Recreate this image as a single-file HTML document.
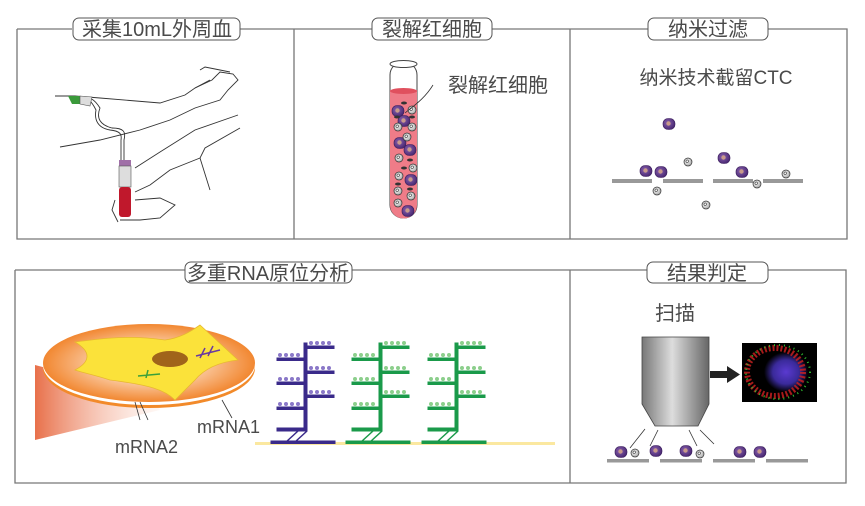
<!DOCTYPE html>
<html><head><meta charset="utf-8"><style>
html,body{margin:0;padding:0;background:#fff;width:865px;height:506px;overflow:hidden}
text{font-family:"Liberation Sans","Noto Sans CJK SC",sans-serif;fill:#4a4a4a}
</style></head><body>
<svg width="865" height="506" viewBox="0 0 865 506" xmlns="http://www.w3.org/2000/svg">
<defs>
<radialGradient id="cc" cx="0.4" cy="0.4" r="0.6"><stop offset="0" stop-color="#8a62b0"/><stop offset="1" stop-color="#4b2a74"/></radialGradient>
<radialGradient id="wc" cx="0.4" cy="0.4" r="0.6"><stop offset="0" stop-color="#fff"/><stop offset="1" stop-color="#aaa"/></radialGradient>
<radialGradient id="disc" cx="0.5" cy="0.5" r="0.55"><stop offset="0.3" stop-color="#fde0c8"/><stop offset="1" stop-color="#f07a1a"/></radialGradient>
<linearGradient id="beam" x1="0" y1="0" x2="1" y2="0"><stop offset="0" stop-color="#e8704a"/><stop offset="1" stop-color="#fde6dc" stop-opacity="0.3"/></linearGradient>
<linearGradient id="obj" x1="0" y1="0" x2="1" y2="0"><stop offset="0" stop-color="#777"/><stop offset="0.45" stop-color="#ddd"/><stop offset="1" stop-color="#666"/></linearGradient>
<radialGradient id="img" cx="0.5" cy="0.5" r="0.5"><stop offset="0" stop-color="#5a3ad0"/><stop offset="0.6" stop-color="#3a2a9a"/><stop offset="1" stop-color="#000"/></radialGradient>
<g id="c"><rect x="-6" y="-5.5" width="12" height="11" rx="5" fill="url(#cc)" stroke="#3a1d5c" stroke-width="0.6"/><circle cx="-0.5" cy="-0.5" r="2.2" fill="#c89a8a"/></g>
<g id="w"><circle r="4" fill="url(#wc)" stroke="#333" stroke-width="0.7"/><circle cx="-0.8" cy="-0.8" r="1.3" fill="none" stroke="#333" stroke-width="0.6"/></g>
<g id="tree">
<rect x="304" y="343" width="3" height="88"/>
<rect x="307" y="346" width="27" height="2.5"/><rect x="277" y="358" width="28" height="2.5"/><rect x="307" y="371" width="27" height="2.5"/><rect x="277" y="382" width="28" height="2.5"/><rect x="307" y="395" width="27" height="2.5"/><rect x="277" y="407" width="28" height="2.5"/><rect x="277" y="428" width="30" height="3"/><rect x="271" y="441" width="64" height="2.5"/>
<path d="M307 431 L295 442 M298 431 L286 442" fill="none" stroke-width="1.5"/>
</g>
<g id="dots"><circle cx="311" cy="343" r="2"/><circle cx="317" cy="343" r="2"/><circle cx="323" cy="343" r="2"/><circle cx="329" cy="343" r="2"/><circle cx="280" cy="355" r="2"/><circle cx="286" cy="355" r="2"/><circle cx="292" cy="355" r="2"/><circle cx="298" cy="355" r="2"/><circle cx="311" cy="368" r="2"/><circle cx="317" cy="368" r="2"/><circle cx="323" cy="368" r="2"/><circle cx="329" cy="368" r="2"/><circle cx="280" cy="379" r="2"/><circle cx="286" cy="379" r="2"/><circle cx="292" cy="379" r="2"/><circle cx="298" cy="379" r="2"/><circle cx="311" cy="392" r="2"/><circle cx="317" cy="392" r="2"/><circle cx="323" cy="392" r="2"/><circle cx="329" cy="392" r="2"/><circle cx="280" cy="404" r="2"/><circle cx="286" cy="404" r="2"/><circle cx="292" cy="404" r="2"/><circle cx="298" cy="404" r="2"/></g>
</defs>
<g fill="none" stroke="#777" stroke-width="1.3">
<path d="M17 29 H72 M240 29 H372 M492 29 H648 M768 29 H847 V239 H17 V29"/>
<path d="M294 29 V239 M570 29 V239"/>
<path d="M15 270 H185 M352 270 H647 M768 270 H846 V483 H15 V270 M570 270 V483"/>
</g>
<g fill="#fff" stroke="#555" stroke-width="1">
<rect x="73" y="18" width="167" height="22" rx="6"/>
<rect x="372" y="18" width="120" height="22" rx="6"/>
<rect x="648" y="18" width="120" height="22" rx="6"/>
<rect x="185" y="262" width="167" height="21" rx="6"/>
<rect x="647" y="262" width="121" height="21" rx="6"/>
</g>
<g font-size="20" text-anchor="middle">
<text x="157" y="36">采集10mL外周血</text>
<text x="432" y="36">裂解红细胞</text>
<text x="708" y="36">纳米过滤</text>
<text x="268" y="280">多重RNA原位分析</text>
<text x="707" y="280">结果判定</text>
</g>
<!-- panel 1 hands -->
<g fill="none" stroke="#333" stroke-width="0.9">
<path d="M55 96 H75 L100 98 L160 103 L185 95 L195 88 L212 80 L220 72 L233 74 L238 80 L228 90 L220 100 L195 108 L170 120 L140 130 L100 140 L60 147"/>
<path d="M200 70 L205 67 L215 69 L230 72 M195 88 L210 80"/>
<path d="M238 115 L195 130 L160 152 L135 168 M240 128 L205 148 L200 158 L210 190 M135 192 L150 185 L170 170 L200 158 M135 200 L160 198 L175 205 L160 218 L140 220 L120 220 M115 200 L112 210 L118 222"/>
<path d="M75 97 C90 95 95 100 100 108 C96 118 100 125 112 128 C124 128 126 132 124 140 L124 160"/>
<path d="M77 98 C88 96 92 102 96 110 C94 120 98 128 110 130 C120 131 122 134 121 140 L121 160"/>
</g>
<path d="M68 96 L80 96 L82 104 L72 104 Z" fill="#3a9a3a"/>
<path d="M80 96 L92 97 L90 106 L80 104 Z" fill="#ddd" stroke="#555" stroke-width="0.6"/>
<rect x="119" y="160" width="12" height="6" fill="#a070a8"/>
<rect x="119" y="166" width="12" height="21" fill="#ddd" stroke="#555" stroke-width="0.6"/>
<rect x="119" y="187" width="12" height="30" rx="3" fill="#c0182c"/>
<!-- panel 2 tube -->
<rect x="390" y="62" width="27" height="156" rx="13" fill="#fff" stroke="#444" stroke-width="1"/>
<path d="M390 90 H417 V205 A13.5 13.5 0 0 1 390 205 Z" fill="#ef7c88"/>
<ellipse cx="403.5" cy="91" rx="13.5" ry="3" fill="#e0505e"/>
<ellipse cx="403.5" cy="64" rx="13.5" ry="3.5" fill="#fff" stroke="#444"/>
<use href="#c" x="404" y="121"/><use href="#c" x="400" y="143"/><use href="#c" x="410" y="150"/><use href="#c" x="411" y="180"/><use href="#c" x="408" y="211"/><use href="#c" x="398" y="111"/>
<use href="#w" x="412" y="110"/><use href="#w" x="398" y="127"/><use href="#w" x="412" y="127"/><use href="#w" x="407" y="137"/><use href="#w" x="399" y="158"/><use href="#w" x="413" y="168"/><use href="#w" x="398" y="191"/><use href="#w" x="411" y="196"/><use href="#w" x="398" y="203"/><use href="#w" x="399" y="176"/>
<g fill="#333"><ellipse cx="404" cy="103" rx="3" ry="1.5"/><ellipse cx="397" cy="117" rx="3" ry="1.5"/><ellipse cx="410" cy="160" rx="3" ry="1.5"/><ellipse cx="398" cy="184" rx="3" ry="1.5"/><ellipse cx="410" cy="189" rx="3" ry="1.5"/><ellipse cx="404" cy="168" rx="3" ry="1.5"/><ellipse cx="412" cy="117" rx="3" ry="1.5"/></g>
<path d="M405 113 C415 105 425 98 433 85" fill="none" stroke="#333" stroke-width="0.8"/>
<text x="448" y="92" font-size="20">裂解红细胞</text>
<!-- panel 3 -->
<text x="716" y="84" font-size="19" text-anchor="middle">纳米技术截留CTC</text>
<g fill="#999"><rect x="612" y="179" width="40" height="4"/><rect x="663" y="179" width="40" height="4"/><rect x="713" y="179" width="40" height="4"/><rect x="763" y="179" width="40" height="4"/></g>
<use href="#c" x="669" y="124"/><use href="#c" x="646" y="171"/><use href="#c" x="661" y="172"/><use href="#c" x="724" y="158"/><use href="#c" x="742" y="172"/>
<use href="#w" x="688" y="162"/><use href="#w" x="657" y="191"/><use href="#w" x="706" y="205"/><use href="#w" x="757" y="184"/><use href="#w" x="786" y="174"/>
<!-- bottom left -->
<path d="M35 365 L150 395 L160 410 L35 440 Z" fill="url(#beam)"/>
<ellipse cx="149" cy="368" rx="106" ry="40" fill="#f28a2a"/>
<ellipse cx="149" cy="365" rx="106" ry="40" fill="#fff"/>
<ellipse cx="149" cy="363" rx="106" ry="39" fill="url(#disc)"/>
<path d="M75 342 C105 338 130 335 165 340 C180 338 190 332 200 325 L238 360 C220 362 205 368 195 380 L175 400 C165 390 150 385 110 380 C95 375 80 372 75 370 C90 362 92 352 75 342 Z" fill="#fbe23a" stroke="#e8b830" stroke-width="0.8"/>
<ellipse cx="170" cy="359" rx="18" ry="8" fill="#a0641a"/>
<path d="M196 356 L220 350 M205 348 L200 358 M213 346 L208 356" stroke="#6a3aa0" stroke-width="1.5" fill="none"/>
<path d="M138 376 L160 374 M148 370 L146 378" stroke="#3aa03a" stroke-width="1.5" fill="none"/>
<path d="M135 402 L140 420 M140 402 L148 420 M222 400 L232 418" stroke="#333" stroke-width="0.8"/>
<text x="197" y="433" font-size="18">mRNA1</text>
<text x="115" y="453" font-size="18">mRNA2</text>
<!-- trees -->
<rect x="255" y="442" width="300" height="3" fill="#fbe8a0"/>
<g fill="#3a2a8a" stroke="#3a2a8a"><use href="#tree"/></g>
<g fill="#8a78c8"><use href="#dots"/></g>
<g transform="translate(75,0)"><g fill="#1a9a4a" stroke="#1a9a4a"><use href="#tree"/></g><g fill="#8ccf8c"><use href="#dots"/></g></g>
<g transform="translate(151,0)"><g fill="#1a9a4a" stroke="#1a9a4a"><use href="#tree"/></g><g fill="#8ccf8c"><use href="#dots"/></g></g>
<!-- panel 5 -->
<text x="655" y="320" font-size="20">扫描</text>
<path d="M642 337 H709 V404 L698 426 H655 L642 404 Z" fill="url(#obj)" stroke="#444" stroke-width="0.8"/>
<rect x="710" y="371" width="18" height="7" fill="#222"/>
<path d="M727 366 L740 374.5 L727 383 Z" fill="#222"/>
<rect x="742" y="343" width="75" height="59" fill="#000"/>
<ellipse cx="786" cy="372" rx="22" ry="20" fill="url(#img)"/>
<ellipse cx="775" cy="372" rx="28" ry="24" fill="none" stroke="#d02020" stroke-width="6" stroke-dasharray="2 2" opacity="0.8"/>
<ellipse cx="778" cy="372" rx="32" ry="27" fill="none" stroke="#30c030" stroke-width="2" stroke-dasharray="1 4"/>
<g stroke="#333" stroke-width="0.8"><path d="M645 429 L630 448 M658 430 L650 446 M689 430 L697 446 M700 430 L714 444"/></g>
<g fill="#999"><rect x="607" y="459" width="42" height="3.5"/><rect x="660" y="459" width="42" height="3.5"/><rect x="713" y="459" width="42" height="3.5"/><rect x="766" y="459" width="42" height="3.5"/></g>
<use href="#c" x="621" y="452"/><use href="#w" x="635" y="453"/><use href="#c" x="656" y="451"/><use href="#c" x="686" y="451"/><use href="#w" x="700" y="454"/><use href="#c" x="740" y="452"/><use href="#c" x="760" y="452"/>
</svg>
</body></html>
